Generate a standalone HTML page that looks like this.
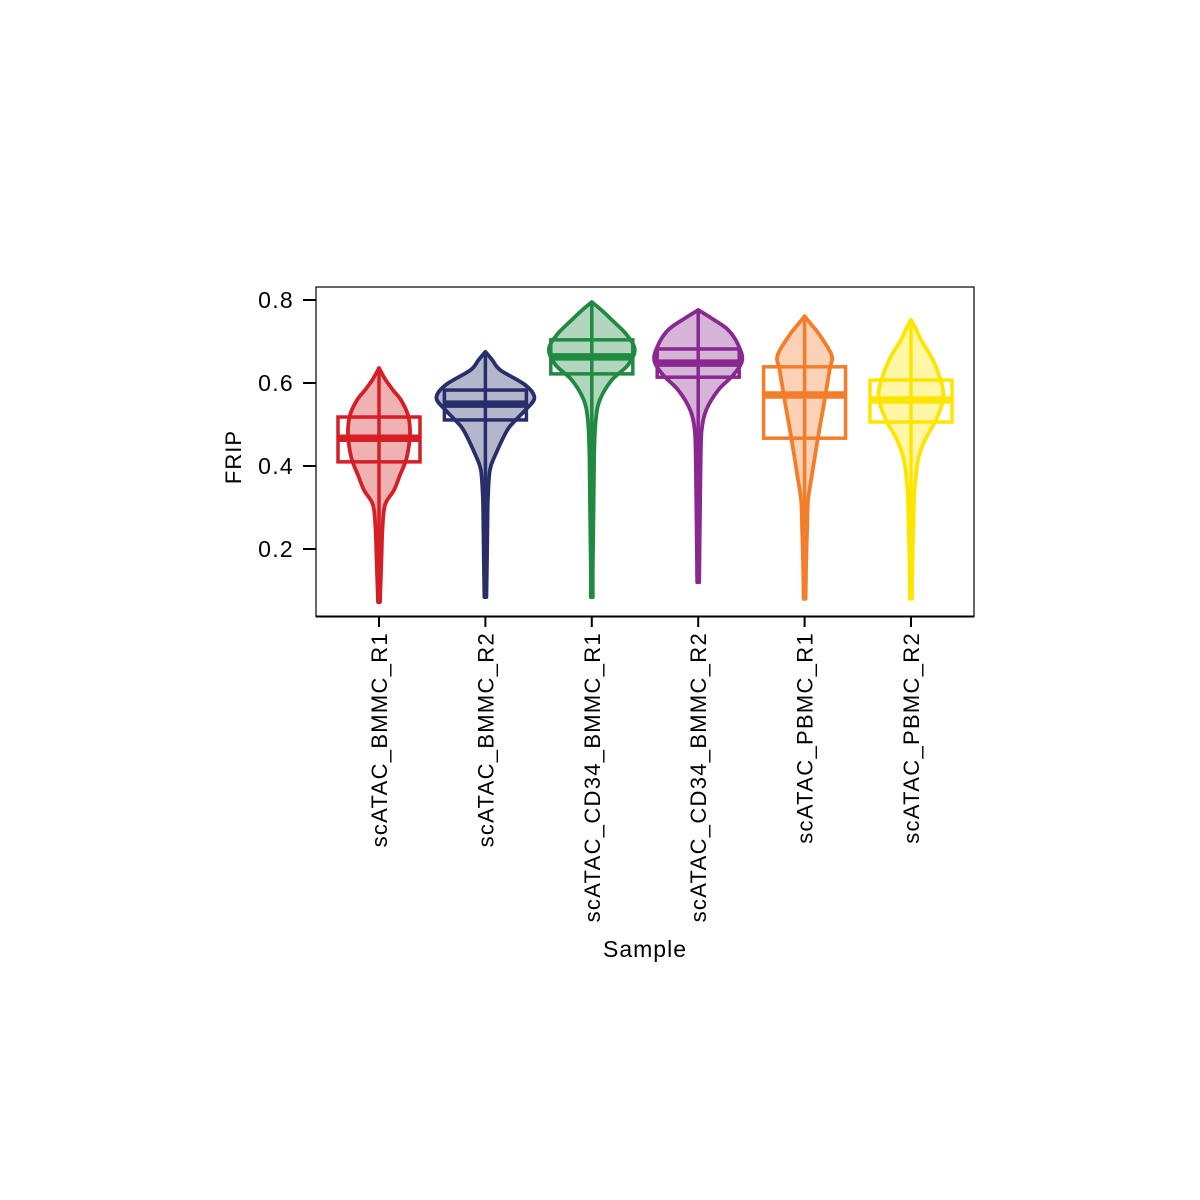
<!DOCTYPE html>
<html><head><meta charset="utf-8"><style>
html,body{margin:0;padding:0;background:#fff;}
svg{display:block;font-family:"Liberation Sans",Arial,sans-serif;}
</style></head><body>
<svg id="chart" width="1200" height="1200" viewBox="0 0 1200 1200">
<rect x="0" y="0" width="1200" height="1200" fill="#fff"/>
<g id="marks"></g>
<rect x="316" y="287" width="658" height="329.5" fill="none" stroke="#000" stroke-width="1.2"/>
<line x1="316" y1="616.5" x2="974" y2="616.5" stroke="#000" stroke-width="2"/>
<g id="axes"></g>
<text x="241" y="457" font-size="22" letter-spacing="1" text-anchor="middle" transform="rotate(-90 241 457)">FRIP</text>
<text x="645" y="957" font-size="23" letter-spacing="1" text-anchor="middle">Sample</text>
</svg>
<script>
const categories=["scATAC_BMMC_R1","scATAC_BMMC_R2","scATAC_CD34_BMMC_R1","scATAC_CD34_BMMC_R2","scATAC_PBMC_R1","scATAC_PBMC_R2"];
const colors=["#D51F26","#272E6A","#208A42","#89288F","#F47D2B","#FEE500"];
const q1=[0.410,0.511,0.622,0.614,0.467,0.506];
const medians=[0.467,0.549,0.663,0.648,0.571,0.559];
const q3=[0.518,0.583,0.704,0.682,0.639,0.607];
const mins=[0.072,0.084,0.084,0.120,0.080,0.080];
const maxs=[0.636,0.675,0.795,0.776,0.761,0.752];
// density profiles (value levels, relative density)
const densVals=[
 [0.636,0.610,0.583,0.559,0.523,0.487,0.450,0.414,0.378,0.342,0.306,0.250,0.180,0.072],
 [0.675,0.655,0.631,0.595,0.564,0.535,0.510,0.487,0.427,0.390,0.320,0.250,0.160,0.084],
 [0.795,0.775,0.752,0.716,0.680,0.643,0.607,0.559,0.511,0.440,0.350,0.250,0.160,0.084],
 [0.776,0.755,0.728,0.692,0.655,0.619,0.583,0.535,0.487,0.420,0.330,0.230,0.120],
 [0.761,0.740,0.716,0.667,0.631,0.559,0.463,0.366,0.318,0.250,0.160,0.080],
 [0.752,0.730,0.704,0.655,0.595,0.559,0.511,0.463,0.414,0.342,0.270,0.170,0.080]
];
const densW=[
 [0,0.12,0.28,0.44,0.58,0.62,0.60,0.54,0.42,0.30,0.12,0.07,0.05,0.02],
 [0,0.14,0.30,0.80,0.98,0.80,0.60,0.44,0.20,0.09,0.05,0.04,0.03,0.02],
 [0,0.20,0.40,0.70,0.86,0.72,0.40,0.16,0.08,0.05,0.04,0.03,0.02,0.02],
 [0,0.28,0.60,0.80,0.88,0.70,0.40,0.16,0.07,0.05,0.04,0.03,0.02],
 [0,0.14,0.30,0.54,0.50,0.40,0.26,0.13,0.07,0.05,0.03,0.02],
 [0,0.10,0.20,0.44,0.62,0.64,0.50,0.28,0.14,0.07,0.05,0.03,0.02]
];
const yTicks=[0.2,0.4,0.6,0.8];

const x0=379,step=106.4;
function xPos(i){return x0+i*step;}
function yPos(v){return 549-(v-0.2)*415;}
const WSCALE=50, BOXHW=41;
const ns="http://www.w3.org/2000/svg";
const marks=document.getElementById('marks'), axes=document.getElementById('axes');
function el(tag,attrs,parent){const e=document.createElementNS(ns,tag);for(const k in attrs)e.setAttribute(k,attrs[k]);parent.appendChild(e);return e;}
function smooth(pts){
 let d="M"+pts[0][0]+","+pts[0][1];
 for(let i=0;i<pts.length-1;i++){
  const p0=pts[Math.max(i-1,0)],p1=pts[i],p2=pts[i+1],p3=pts[Math.min(i+2,pts.length-1)];
  const c1=[p1[0]+(p2[0]-p0[0])/6,p1[1]+(p2[1]-p0[1])/6];
  const c2=[p2[0]-(p3[0]-p1[0])/6,p2[1]-(p3[1]-p1[1])/6];
  d+=" C"+c1[0].toFixed(1)+","+c1[1].toFixed(1)+" "+c2[0].toFixed(1)+","+c2[1].toFixed(1)+" "+p2[0].toFixed(1)+","+p2[1].toFixed(1);
 }
 return d;
}
categories.forEach((c,i)=>{
 const cx=xPos(i), col=colors[i];
 const g=el('g',{},marks);
 
 
 const vals=densVals[i], w=densW[i];
 const right=vals.map((v,k)=>[cx+w[k]*WSCALE,yPos(v)]);
 const left=vals.map((v,k)=>[cx-w[k]*WSCALE,yPos(v)]).reverse();
 let d=smooth(right)+" L"+left[0][0]+","+left[0][1]+" "+smooth(left).slice(1)+" Z";
 const vp=el('path',{d:d,fill:col,'fill-opacity':0.35,stroke:col,'stroke-width':3.8,'stroke-linejoin':'round'},g);
 
 
 const wl=el('line',{x1:cx,x2:cx,y1:yPos(maxs[i]),y2:yPos(mins[i]),stroke:col,'stroke-width':3.5,'stroke-linecap':'round'},g);
 
 
 const bx=el('rect',{x:cx-BOXHW,y:yPos(q3[i]),width:BOXHW*2,height:yPos(q1[i])-yPos(q3[i]),fill:'none',stroke:col,'stroke-width':3.5},g);
 
 
 const md=el('line',{x1:cx-BOXHW,x2:cx+BOXHW,y1:yPos(medians[i]),y2:yPos(medians[i]),stroke:col,'stroke-width':7.5},g);
 
 
 const tk=el('line',{x1:cx,x2:cx,y1:616,y2:627,stroke:'#000','stroke-width':2},axes);
 
 
 const tx=el('text',{x:0,y:0,'font-size':22,'letter-spacing':1.3,'text-anchor':'end',transform:'translate('+(cx+8)+',632) rotate(-90)'},axes);
 tx.textContent=c;
 
 
});
yTicks.forEach(v=>{
 const y=yPos(v);
 const t=el('line',{x1:303,x2:316,y1:y,y2:y,stroke:'#000','stroke-width':2},axes);
 
 
 const tx=el('text',{x:294,y:y+8,'font-size':23,'letter-spacing':1.3,'text-anchor':'end'},axes);
 tx.textContent=v.toFixed(1);
 
 
});
</script>
</body></html>
